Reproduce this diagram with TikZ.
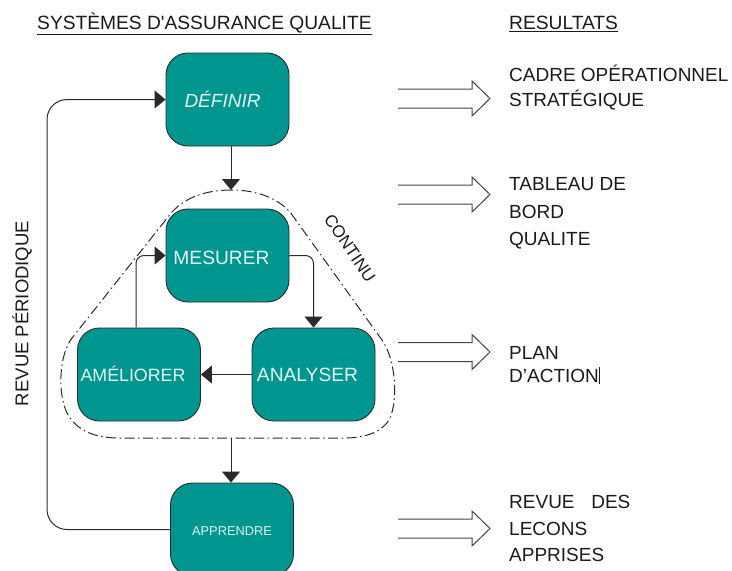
\documentclass[tikz,border=0pt]{standalone}
\usepackage{fontspec}
\setmainfont{Liberation Sans}[Ligatures=TeXOff]
\usetikzlibrary{arrows.meta}
\definecolor{tealfill}{HTML}{009690}
\definecolor{boxline}{HTML}{2B2B2B}
\definecolor{boxtext}{HTML}{E4F5F3}
\definecolor{connc}{HTML}{2A2A2A}
\definecolor{resc}{HTML}{444444}
\definecolor{txt}{HTML}{1A1A1A}
\begin{document}
\begin{tikzpicture}[x=1pt,y=-1pt,
  stagebox/.style={draw=boxline, fill=tealfill, rounded corners=22pt,
    minimum width=123pt, minimum height=93pt, line width=0.9pt, inner sep=0pt},
  boxlbl/.style={text=boxtext, font=\fontsize{19.2}{22}\selectfont},
  conn/.style={draw=connc, line width=1pt, -{Triangle[length=11pt,width=18pt]}},
  loopline/.style={draw=connc, line width=1pt, dash pattern=on 10pt off 3.5pt on 1.5pt off 3.5pt},
  restext/.style={text=txt, anchor=base west, align=left, inner sep=0pt},
  resline/.style={draw=resc, line width=1pt},
  resarrow/.pic={\draw[resline] (0,-9.5) -- (74,-9.5) -- (74,-17.5) -- (92,0) -- (74,17.5) -- (74,9.5) -- (0,9.5);}
]
\useasboundingbox (0,0) rectangle (732,571);

% titles
\node[text=txt, font=\fontsize{19.2}{22}\selectfont, anchor=base west, inner sep=0pt] (t1) at (37,29.5) {\underline{SYSTÈMES D'ASSURANCE QUALITE}};
\node[text=txt, font=\fontsize{19.2}{22}\selectfont, anchor=base west, inner sep=0pt] (t2) at (509,29.5) {\underline{RESULTATS}};

% boxes
\node[stagebox, label={[boxlbl, xshift=-5pt, font=\fontsize{19}{22}\selectfont\itshape]center:DÉFINIR}] (def) at (227.5,99.5) {};
\node[stagebox, label={[boxlbl, xshift=-6pt, yshift=-2pt]center:MESURER}] (mes) at (227.5,255.5) {};
\node[stagebox, label={[boxlbl, xshift=-6pt, yshift=1pt, font=\fontsize{17.8}{22}\selectfont]center:AMÉLIORER}] (ame) at (139,374.5) {};
\node[stagebox, label={[boxlbl, xshift=-6pt]center:ANALYSER}] (ana) at (313.5,374.5) {};
\node[stagebox, label={[boxlbl, yshift=-2pt, font=\fontsize{12.8}{15}\selectfont]center:APPRENDRE}] (app) at (232,529.5) {};

% continuous loop
\coordinate (loopTop) at (231,190);
\coordinate (loopBot) at (231,438);
\draw[loopline] (loopTop) .. controls (205,190) and (185,198) .. (172,212) -- (72,338)
  .. controls (58,356) and (57,400) .. (70,418) .. controls (82,434) and (100,438) .. (120,438)
  -- (loopBot) -- (345,438) .. controls (365,438) and (383,432) .. (390,418)
  .. controls (398,400) and (396,360) .. (382,340) -- (290,212)
  .. controls (277,198) and (257,190) .. (loopTop);
\node[text=txt, font=\fontsize{17}{20}\selectfont, rotate=-56, inner sep=0pt] (cont) at (350,248) {CONTINU};

% connectors
\draw[conn] (def.south -| loopTop) -- (loopTop);
\draw[conn] (loopBot) -- (app.north -| loopBot);
\draw[conn, rounded corners=8pt] (mes.east) -| (ana.north);
\draw[conn] (ana.west) -- (ame.east);
\draw[conn, rounded corners=8pt] ([xshift=-3pt]ame.north) |- (mes.west);
\coordinate (lc) at (47,0);
\draw[conn, rounded corners=20pt] (app.west) -- (app.west -| lc) -- (def.west -| lc) -- (def.west);
\node[text=txt, font=\fontsize{18.5}{22}\selectfont, rotate=90, inner sep=0pt] (rp) at (22,313.5) {REVUE PÉRIODIQUE};

% results
\pic (ra1) at (398,98.5) {resarrow};
\pic (ra2) at (398,194.5) {resarrow};
\pic (ra3) at (398,352) {resarrow};
\pic (ra4) at (398,528.5) {resarrow};

\node[restext, font=\fontsize{19}{25}\selectfont] (r1) at (509,106.8) {CADRE OPÉRATIONNEL\\STRATÉGIQUE};
\node[restext, font=\fontsize{19}{27.5}\selectfont] (r2) at (509,245.8) {TABLEAU DE\\BORD\\QUALITE};
\node[restext, font=\fontsize{19}{23}\selectfont] (r3) at (509,382.2) {PLAN\\D’ACTION\rule[-1.5pt]{0.8pt}{17pt}};
\node[restext, font=\fontsize{19}{26.5}\selectfont] (r4) at (509,561.8) {REVUE\hspace{0.6em} DES\\LECONS\\APPRISES};
\end{tikzpicture}
\end{document}
